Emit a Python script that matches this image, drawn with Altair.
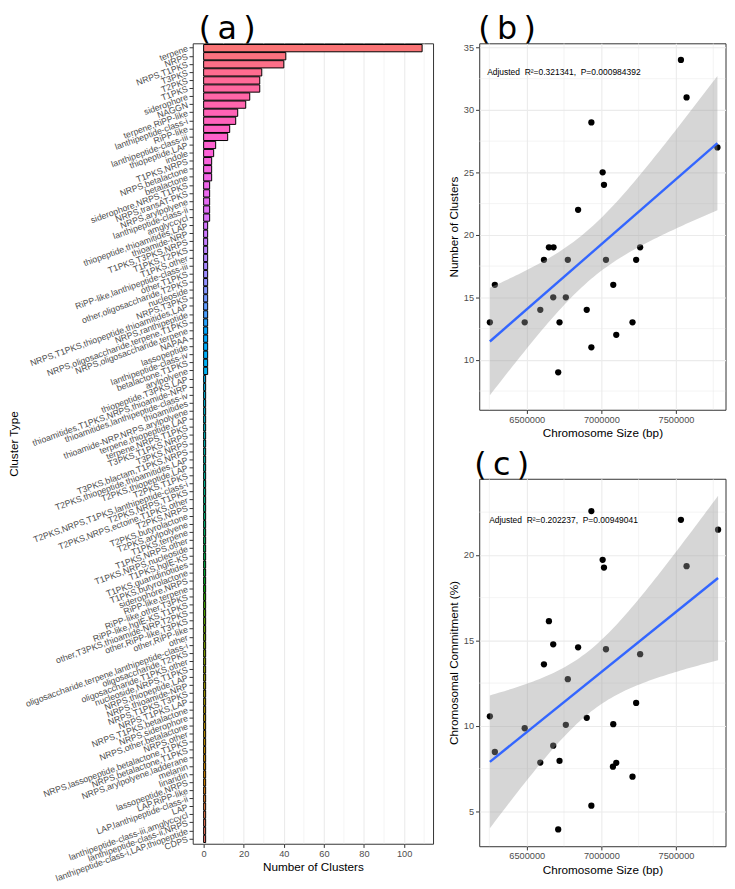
import math
import altair as alt
import numpy as np
import pandas as pd

# ---------------- data ----------------
cluster_types = [
    "terpene", "NRPS", "NRPS,T1PKS", "T3PKS", "T2PKS", "T1PKS", "siderophore", "NAGGN",
    "terpene,RiPP-like", "lanthipeptide-class-i", "RiPP-like", "lanthipeptide-class-iii",
    "thiopeptide,LAP", "indole", "T1PKS,NRPS", "NRPS,betalactone", "betalactone",
    "siderophore,NRPS,T1PKS", "NRPS,transAT-PKS", "NRPS,arylpolyene", "lanthipeptide-class-ii",
    "amglyccycl", "thiopeptide,thioamitides,LAP", "thioamide-NRP", "T1PKS,T3PKS,NRPS",
    "T1PKS,T2PKS", "T1PKS,other", "RiPP-like,lanthipeptide-class-iii", "other,T1PKS",
    "other,oligosaccharide,T2PKS", "nucleoside", "NRPS,T3PKS",
    "NRPS,T1PKS,thiopeptide,thioamitides,LAP", "NRPS,ranthipeptide",
    "NRPS,oligosaccharide,terpene,T1PKS", "NRPS,oligosaccharide,terpene", "NAPAA",
    "lassopeptide", "lanthipeptide-class-iv", "betalactone,T1PKS", "arylpolyene",
    "thiopeptide,T3PKS,LAP", "thioamitides,T1PKS,NRPS,thioamide-NRP",
    "thioamitides,lanthipeptide-class-iv", "thioamitides", "thioamide-NRP,NRPS,arylpolyene",
    "terpene,thiopeptide,LAP", "terpene,NRPS,T1PKS", "T3PKS,T1PKS,NRPS", "T3PKS,NRPS",
    "T3PKS,blactam,T1PKS,NRPS", "T2PKS,thiopeptide,thioamitides,LAP", "T2PKS,thiopeptide,LAP",
    "T2PKS,T1PKS", "T2PKS,NRPS,T1PKS,lanthipeptide-class-i", "T2PKS,NRPS,T1PKS",
    "T2PKS,NRPS,ectoine,T1PKS,other", "T2PKS,NRPS", "T2PKS,butyrolactone", "T2PKS,arylpolyene",
    "T1PKS,terpene", "T1PKS,NRPS,other", "T1PKS,NRPS,nucleoside", "T1PKS,hglE-KS",
    "T1PKS,guanidinotides", "T1PKS,butyrolactone", "siderophore,NRPS", "RiPP-like,terpene",
    "RiPP-like,other,T3PKS", "RiPP-like,hglE-KS,T1PKS", "other,T3PKS,thioamide-NRP,T2PKS",
    "other,RiPP-like,T3PKS", "other,RiPP-like", "other",
    "oligosaccharide,terpene,lanthipeptide-class-i", "oligosaccharide,T2PKS",
    "oligosaccharide,T1PKS,other", "nucleoside,NRPS,T1PKS", "NRPS,thiopeptide,LAP",
    "NRPS,thioamide-NRP", "NRPS,T1PKS,T3PKS", "NRPS,T1PKS,LAP", "NRPS,T1PKS,betalactone",
    "NRPS,siderophore", "NRPS,other,betalactone", "NRPS,other",
    "NRPS,lassopeptide,betalactone,T1PKS", "NRPS,betalactone,T1PKS",
    "NRPS,arylpolyene,ladderane", "melanin", "linaridin", "lassopeptide,NRPS", "LAP,RiPP-like",
    "LAP,lanthipeptide-class-ii", "LAP", "lanthipeptide-class-iii,amglyccycl",
    "lanthipeptide-class-ii,NRPS", "lanthipeptide-class-i,LAP,thiopeptide", "CDPS",
]
cluster_counts = [
    109, 41, 40, 29, 28, 28, 23, 21, 17, 16, 13, 12, 6, 5, 4, 4, 4, 3, 3, 3, 3, 3,
    2, 2, 2, 2, 2, 2, 2, 2, 2, 2, 2, 2, 2, 2, 2, 2, 2, 2, 2,
    1, 1, 1, 1, 1, 1, 1, 1, 1, 1, 1, 1, 1, 1, 1, 1, 1, 1, 1, 1,
    1, 1, 1, 1, 1, 1, 1, 1, 1, 1, 1, 1, 1, 1, 1, 1, 1, 1, 1, 1,
    1, 1, 1, 1, 1, 1, 1, 1, 1, 1, 1, 1, 1, 1, 1, 1, 1, 1,
]

size_b = [6253333, 6286667, 6486667, 6591111, 6615556, 6648889, 6677778, 6680000, 6711111,
          6720000, 6762222, 6775556, 6844444, 6902222, 6933333, 6933333, 7008889, 7017778,
          7031111, 7080000, 7100000, 7208889, 7233333, 7260000, 7533333, 7571111, 7777778]
clusters_b = [13, 16, 13, 14, 18, 19, 15, 19, 9, 13, 15, 18, 22, 14, 29, 11, 25, 24, 18, 16,
              12, 13, 18, 19, 34, 31, 27]

size_c = [6253333, 6286667, 6486667, 6591111, 6615556, 6648889, 6677778, 6677778, 6711111,
          6720000, 6762222, 6775556, 6844444, 6902222, 6933333, 6933333, 7008889, 7017778,
          7031111, 7077778, 7080000, 7100000, 7208889, 7233333, 7260000, 7533333, 7571111,
          7782222]
commit_c = [10.56, 8.47, 9.86, 7.85, 13.60, 16.12, 14.77, 8.84, 3.94, 7.95, 10.06, 12.73,
            14.59, 10.47, 22.56, 5.33, 19.71, 19.26, 14.48, 7.61, 10.10, 7.84, 7.03, 11.34,
            14.19, 22.05, 19.34, 21.47]

# axis breaks (major labelled, minor grid only)
a_major = [0, 20, 40, 60, 80, 100]
a_minor = [10, 30, 50, 70, 90, 110]
size_major = [6500000, 7000000, 7500000]
size_minor = [6250000, 6750000, 7250000, 7750000]
b_major = [10, 15, 20, 25, 30, 35]
b_minor = [7.5, 12.5, 17.5, 22.5, 27.5, 32.5]
c_major = [5, 10, 15, 20]
c_minor = [7.5, 12.5, 17.5, 22.5]

label_b = "Adjusted\u00a0 R\u00b2=0.321341,\u00a0 P=0.000984392"
label_c = "Adjusted\u00a0 R\u00b2=0.202237,\u00a0 P=0.00949041"

FONT = "Liberation Sans"
LETTER_FONT = "DejaVu Sans"
GRID = "#EBEBEB"
DARK = "#333333"
LAB = "#4D4D4D"


# ggplot-like hue palette (HCL, c=100, l=65)
def hcl_hex(h, c=100.0, l=65.0):
    hr = math.radians(h)
    U, V = c * math.cos(hr), c * math.sin(hr)
    Xn, Yn, Zn = 95.047, 100.0, 108.883
    Y = Yn * (((l + 16) / 116) ** 3 if l > 8 else l / 903.3)
    den = Xn + 15 * Yn + 3 * Zn
    un, vn = 4 * Xn / den, 9 * Yn / den
    u = U / (13 * l) + un
    v = V / (13 * l) + vn
    X = 9 * Y * u / (4 * v)
    Z = Y * (12 - 3 * u - 20 * v) / (4 * v)
    X, Y, Z = X / 100, Y / 100, Z / 100
    rgb = [3.2404542 * X - 1.5371385 * Y - 0.4985314 * Z,
           -0.9692660 * X + 1.8760108 * Y + 0.0415560 * Z,
           0.0556434 * X - 0.2040259 * Y + 1.0572252 * Z]
    out = []
    for ch in rgb:
        ch = 12.92 * ch if ch <= 0.0031308 else 1.055 * (max(ch, 0) ** (1 / 2.4)) - 0.055
        out.append(int(round(min(max(ch, 0), 1) * 255)))
    return "#%02X%02X%02X" % tuple(out)


n = len(cluster_types)
levels = list(reversed(cluster_types))  # first level drawn at the bottom
colors = [hcl_hex(15 + 360 * i / n) for i in range(n)]

df_a = pd.DataFrame({"type": cluster_types, "n": cluster_counts})

axis_common = dict(
    labelFont=FONT, titleFont=FONT, labelColor=LAB, labelFontSize=9.3,
    titleFontSize=11.8, titleFontWeight="normal", titleColor="black",
    tickColor=DARK, tickSize=3.7, domain=False, gridColor=GRID, gridWidth=1.1,
    labelOverlap=False, labelPadding=2,
)


def letter_title(txt, dx):
    return alt.TitleParams(txt, anchor="start", frame="group", fontSize=32,
                           fontWeight="normal", font=LETTER_FONT, dx=dx, offset=-3)


def vgrid(vals, field, scale, axis):
    return alt.Chart(pd.DataFrame({field: vals})).mark_rule(color=GRID, strokeWidth=0.55).encode(
        x=alt.X(field + ":Q", scale=scale, axis=axis))


def hgrid(vals, field, scale, axis):
    return alt.Chart(pd.DataFrame({field: vals})).mark_rule(color=GRID, strokeWidth=0.55).encode(
        y=alt.Y(field + ":Q", scale=scale, axis=axis))


# ---------------- panel (a) ----------------
a_scale = alt.Scale(domain=[-5.45, 114.45], nice=False, zero=False)
a_axis = alt.Axis(values=a_major, title="Number of Clusters", titlePadding=3, **axis_common)
bars = alt.Chart(df_a).mark_bar(stroke="black", strokeWidth=1).encode(
    x=alt.X("n:Q", scale=a_scale, axis=a_axis),
    x2=alt.datum(0),
    y=alt.Y("type:N", sort=cluster_types,
            scale=alt.Scale(paddingInner=0.1, paddingOuter=0.15),
            axis=alt.Axis(title="Cluster Type", labelAngle=340, labelAlign="right",
                          labelBaseline="middle", labelLimit=400,
                          bandPosition=0.5, titlePadding=4,
                          **{**axis_common, "labelFontSize": 8.8})),
    color=alt.Color("type:N", scale=alt.Scale(domain=levels, range=colors), legend=None),
)
panel_a = alt.layer(vgrid(a_minor, "n", a_scale, a_axis), bars).properties(
    width=242, height=806, title=letter_title("(\u2009a\u2009)", 6))


# ---------------- panels (b) and (c) ----------------
def lm_band(xs, ys, tval):
    x = np.asarray(xs, float)
    y = np.asarray(ys, float)
    k, b = np.polyfit(x, y, 1)
    resid = y - (k * x + b)
    s = math.sqrt((resid ** 2).sum() / (len(x) - 2))
    xb = x.mean()
    sxx = ((x - xb) ** 2).sum()
    g = np.linspace(x.min(), x.max(), 80)
    fit = k * g + b
    se = s * np.sqrt(1 / len(x) + (g - xb) ** 2 / sxx)
    return pd.DataFrame({"x": g, "lo": fit - tval * se, "hi": fit + tval * se})


def scatter(xs, ys, ytitle, ydom, ymajor, yminor, xlab, ylab_pos, text, tval, letter,
            letter_dx, h):
    df = pd.DataFrame({"x": xs, "y": ys})
    xs_scale = alt.Scale(domain=[6182000, 7832000], nice=False, zero=False)
    xs_axis = alt.Axis(values=size_major, format="d", title="Chromosome Size (bp)",
                       titlePadding=3, **axis_common)
    ys_scale = alt.Scale(domain=ydom, nice=False, zero=False)
    ys_axis = alt.Axis(values=ymajor, title=ytitle, titlePadding=4, **axis_common)
    xenc = alt.X("x:Q", scale=xs_scale, axis=xs_axis)
    yenc = alt.Y("y:Q", scale=ys_scale, axis=ys_axis)
    pts = alt.Chart(df).mark_circle(size=40, color="black", opacity=1).encode(x=xenc, y=yenc)
    band = alt.Chart(lm_band(xs, ys, tval)).mark_area(color="#999999", opacity=0.4).encode(
        x="x:Q", y="lo:Q", y2="hi:Q")
    line = alt.Chart(df).transform_regression("x", "y").mark_line(
        color="#3366FF", strokeWidth=2.4).encode(x="x:Q", y="y:Q")
    txt = alt.Chart(pd.DataFrame({"t": [text]})).mark_text(
        align="left", baseline="middle", fontSize=8.5, font=FONT, color="black").encode(
        x=alt.value(xlab), y=alt.value(ylab_pos), text="t:N")
    return alt.layer(vgrid(size_minor, "x", xs_scale, xs_axis),
                     hgrid(yminor, "y", ys_scale, ys_axis),
                     pts, band, line, txt).properties(
        width=248, height=h, title=letter_title(letter, letter_dx))


panel_b = scatter(size_b, clusters_b, "Number of Clusters", [6.0, 35.33], b_major, b_minor,
                  8, 29, label_b, 2.06, "(\u2009b\u2009)", -1, 369)
panel_c = scatter(size_c, commit_c, "Chromosomal Commitment (%)", [2.96, 24.45], c_major,
                  c_minor, 10, 42, label_c, 2.056, "(\u2009c\u2009)", -5, 370)

right = alt.vconcat(panel_b, panel_c, spacing=7.5)
chart = alt.hconcat(panel_a, right, spacing=13.5).properties(
    padding={"left": 0, "top": 1.5, "right": 0, "bottom": 0}
).configure_view(stroke=DARK, strokeWidth=1).configure_title(color="black").configure_axis(
    labelOverlap=False)

chart.save("out.html", embed_options={"renderer": "svg", "actions": False})
